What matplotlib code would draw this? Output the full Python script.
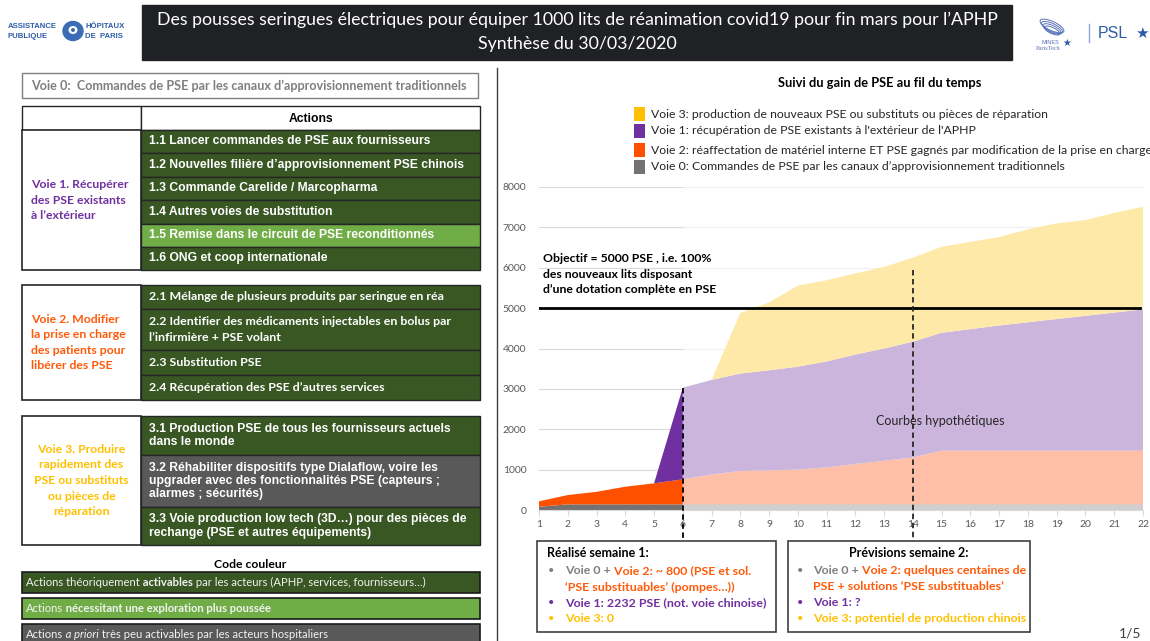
import matplotlib
matplotlib.use("Agg")
import matplotlib.pyplot as plt
from matplotlib.patches import Rectangle, Ellipse

# --- data ---
weeks = list(range(1, 23))
voie0 = [80] + [140] * 21
voie2 = [135, 230, 310, 437, 520, 620, 740, 825, 840, 860, 915, 1000, 1080, 1160] + [1330] * 8
voie1 = [0, 0, 0, 0, 0, 2270, 2340, 2415, 2480, 2550, 2625, 2710, 2780, 2870, 2920,
         3010, 3100, 3180, 3260, 3340, 3420, 3500]
voie3 = [0] * 7 + [1500, 1680, 2010, 2010, 2010, 2020, 2080, 2130, 2160, 2190, 2300,
                   2370, 2370, 2470, 2540]
objective = 5000
done_week = 6
forecast_week = 14
yticks = list(range(0, 9000, 1000))

legend_labels = [
    "Voie 3: production de nouveaux PSE ou substituts ou pièces de réparation",
    "Voie 1: récupération de PSE existants à l'extérieur de l'APHP",
    "Voie 2: réaffectation de matériel interne ET PSE gagnés par modification de la prise en charge",
    "Voie 0: Commandes de PSE par les canaux d’approvisionnement traditionnels",
]

voie1_actions = ["1.1 Lancer commandes de PSE aux fournisseurs",
                 "1.2 Nouvelles filière d’approvisionnement PSE chinois",
                 "1.3 Commande Carelide / Marcopharma",
                 "1.4 Autres voies de substitution",
                 "1.5 Remise dans le circuit de PSE reconditionnés",
                 "1.6 ONG et coop internationale"]
voie2_actions = ["2.1 Mélange de plusieurs produits par seringue en réa",
                 "2.2 Identifier des médicaments injectables en bolus par\nl’infirmière + PSE volant",
                 "2.3 Substitution PSE",
                 "2.4 Récupération des PSE d’autres services"]
voie3_actions = ["3.1 Production PSE de tous les fournisseurs actuels\ndans le monde",
                 "3.2 Réhabiliter dispositifs type Dialaflow, voire les\nupgrader avec des fonctionnalités PSE (capteurs ;\nalarmes ; sécurités)",
                 "3.3 Voie production low tech (3D…) pour des pièces de\nrechange (PSE et autres équipements)"]

# colours
GREEN = "#385723"
LGREEN = "#70AD47"
DGREY = "#595959"
PURPLE = "#7030A0"
ORANGE = "#FF5A0A"
YELLOW = "#FFC000"
GREYTXT = "#7F7F7F"
dark_cols = ["#767171", "#FF5000", "#7030A0", "#FFC000"]
light_cols = ["#D0CECE", "#FFBFA6", "#CBB5DD", "#FFE9A8"]
legend_cols = ["#FFC000", "#7030A0", "#FF5000", "#767171"]

CAL = ["Lato", "DejaVu Sans"]
ARIAL = ["Liberation Sans", "DejaVu Sans"]

W, H = 1150, 641
fig = plt.figure(figsize=(W / 100, H / 100), dpi=100)
fig.patch.set_facecolor("white")

# slide overlay in pixel coordinates
ax0 = fig.add_axes([0, 0, 1, 1])
ax0.set_xlim(0, W)
ax0.set_ylim(H, 0)
ax0.axis("off")


def rect(x0, y0, x1, y1, fc="white", ec="#262626", lw=1.0, z=1):
    ax0.add_patch(Rectangle((x0, y0), x1 - x0, y1 - y0, facecolor=fc, edgecolor=ec, lw=lw, zorder=z))


def rich(x, y, parts, size=8.6, family=CAL):
    # pieces of differently styled text, laid one after the other
    s, kw = parts[0]
    t = ax0.text(x, y, s, va="center", ha="left", fontsize=size, family=family, zorder=5, **kw)
    for s, kw in parts[1:]:
        t = ax0.annotate(s, xy=(1, 0.5), xycoords=t, va="center", ha="left",
                         fontsize=size, family=family, zorder=5, **kw)
    return t


# title bar
rect(142, 5, 1012, 60, fc="#202124", ec="#202124")
ax0.text(577, 20, "Des pousses seringues électriques pour équiper 1000 lits de réanimation covid19 pour fin mars pour l’APHP",
         color="white", ha="center", va="center", fontsize=12.8, family=CAL)
ax0.text(577, 44, "Synthèse du 30/03/2020", color="white", ha="center", va="center", fontsize=12.8, family=CAL)

# logos (approximation)
blue = "#2D5CA6"
ax0.text(8, 27, "ASSISTANCE", color=blue, fontsize=5.6, fontweight="bold", family=ARIAL, va="center")
ax0.text(8, 36, "PUBLIQUE", color=blue, fontsize=5.6, fontweight="bold", family=ARIAL, va="center")
ax0.add_patch(Ellipse((73, 31), 20, 19, color="#3A6DB5"))
ax0.add_patch(Ellipse((73, 30), 9, 8, facecolor="white", edgecolor="none"))
ax0.add_patch(Ellipse((73, 30), 4, 4, facecolor="#3A6DB5", edgecolor="none"))
ax0.text(85, 27, "HÔPITAUX", color=blue, fontsize=5.6, fontweight="bold", family=ARIAL, va="center")
ax0.text(85, 36, "DE  PARIS", color=blue, fontsize=5.6, fontweight="bold", family=ARIAL, va="center")
for k in range(4):
    ax0.add_patch(Ellipse((1052, 26 + k * 1.5), 26 - k * 3, 9 - k, angle=25, fill=False,
                          edgecolor="#5A73B8", lw=0.7))
ax0.text(1050, 42, "MINES", color="#5A73B8", fontsize=4, ha="center", va="center", family=ARIAL)
ax0.text(1048, 48, "ParisTech", color="#5A73B8", fontsize=4.5, ha="center", va="center", family="Liberation Serif")
ax0.text(1067, 43, "★", color=blue, fontsize=7, ha="center", va="center", family="DejaVu Sans")
ax0.plot([1089, 1089], [24, 42], color="#8FA7D4", lw=1)
ax0.text(1098, 33, "PSL", color=blue, fontsize=11.5, va="center", family=ARIAL)
ax0.text(1135, 33, "★", color=blue, fontsize=11, va="center", family="DejaVu Sans")

# vertical separator
ax0.plot([497, 497], [68, H], color="#404040", lw=1)

# voie 0 box
rect(22, 73, 478, 98, ec=GREYTXT, lw=1)
ax0.text(31, 86, "Voie 0:  Commandes de PSE par les canaux d’approvisionnement traditionnels",
         color=GREYTXT, fontsize=9.1, fontweight="bold", family=CAL, va="center")


def table(edges, actions, colours, font, size, spacing, label, lcol, ha_label, header=False):
    top = edges[0]
    if header:
        rect(22, top - 24, 141, top)
        rect(141, top - 24, 480, top)
        ax0.text(311, top - 11.5, "Actions", fontsize=8.7, fontweight="bold", family=ARIAL,
                 ha="center", va="center")
    rect(22, top, 141, edges[-1], lw=1.2)
    for i, txt in enumerate(actions):
        rect(141, edges[i], 480, edges[i + 1], fc=colours[i], lw=1.0)
        ax0.text(149, (edges[i] + edges[i + 1]) / 2, txt, color="white", fontsize=size,
                 fontweight="bold", family=font, va="center", ha="left", linespacing=spacing)
    lx = 31 if ha_label == "left" else 81.5
    ax0.text(lx, (top + edges[-1]) / 2, label, color=lcol, fontsize=8.8, fontweight="bold",
             family=CAL, va="center", ha=ha_label, linespacing=1.5)


table([130, 153, 177, 200, 224, 247, 270], voie1_actions,
      [GREEN, GREEN, GREEN, GREEN, LGREEN, GREEN], ARIAL, 8.7, 1.15,
      "Voie 1. Récupérer\ndes PSE existants\nà l’extérieur", PURPLE, "left", header=True)
table([285, 309, 350, 375, 400], voie2_actions, [GREEN] * 4, CAL, 8.9, 1.45,
      "Voie 2. Modifier\nla prise en charge\ndes patients pour\nlibérer des PSE", ORANGE, "left")
table([416, 455, 507, 545], voie3_actions, [GREEN, DGREY, GREEN], ARIAL, 8.7, 1.15,
      "Voie 3. Produire\nrapidement des\nPSE ou substituts\nou pièces de\nréparation", YELLOW, "center")

# colour code
ax0.text(250, 564, "Code couleur", fontsize=8.8, fontweight="bold", family=CAL, ha="center", va="center")
rect(22, 572, 480, 593, fc=GREEN, ec="#1a1a1a", lw=1.2)
rect(22, 598, 480, 619, fc=LGREEN, ec="#1a1a1a", lw=1.2)
rect(22, 624, 480, 645, fc=DGREY, ec="#1a1a1a", lw=1.2)
wt = {"color": "#F2F2F2"}
rich(26, 582.5, [("Actions théoriquement", wt), (" activables", dict(wt, fontweight="bold")),
                 (" par les acteurs (APHP, services, fournisseurs…)", wt)], size=8.1)
rich(26, 608.5, [("Actions", wt), (" nécessitant une exploration plus poussée", dict(wt, fontweight="bold"))], size=8.1)
rich(26, 634, [("Actions", wt), (" a priori", dict(wt, fontstyle="italic")),
               (" très peu activables par les acteurs hospitaliers", wt)], size=8.1)

# chart title and legend
ax0.text(880, 83, "Suivi du gain de PSE au fil du temps", fontsize=9.3, fontweight="bold",
         family=CAL, ha="center", va="center")
for i, (lab, col) in enumerate(zip(legend_labels, legend_cols)):
    y = [114, 131, 150, 167][i]
    rect(634, y - 7, 645, y + 7, fc=col, ec="none")
    ax0.text(651, y, lab, fontsize=8.8, family=CAL, va="center", ha="left", color="#262626")

# bottom boxes
rect(537, 541, 776, 632, ec="#404040", lw=1.2)
rect(788, 541, 1030, 632, ec="#404040", lw=1.2)
bold = {"fontweight": "bold"}
ax0.text(547, 553, "Réalisé semaine 1:", fontsize=9, family=CAL, va="center", **bold)
ax0.text(909, 553, "Prévisions semaine 2:", fontsize=9, family=CAL, va="center", ha="center", **bold)
box_lines = [
    (551, 565, [
        ("#7F7F7F", [("Voie 0 +", dict(bold, color="#7F7F7F")), (" Voie 2: ~ 800 (PSE et sol.", dict(bold, color=ORANGE))]),
        (None, [("‘PSE substituables’ (pompes…))", dict(bold, color=ORANGE))]),
        (PURPLE, [("Voie 1: 2232 PSE (not. voie chinoise)", dict(bold, color=PURPLE))]),
        (YELLOW, [("Voie 3: 0", dict(bold, color=YELLOW))]),
    ]),
    (800, 813, [
        ("#7F7F7F", [("Voie 0 +", dict(bold, color="#7F7F7F")), (" Voie 2: quelques centaines de", dict(bold, color=ORANGE))]),
        (None, [("PSE + solutions ‘PSE substituables’", dict(bold, color=ORANGE))]),
        (PURPLE, [("Voie 1: ?", dict(bold, color=PURPLE))]),
        (YELLOW, [("Voie 3: potentiel de production chinois", dict(bold, color=YELLOW))]),
    ]),
]
for bx, tx, lines in box_lines:
    for j, (bcol, parts) in enumerate(lines):
        y = 571 + 16 * j
        if bcol:
            ax0.text(bx, y, "•", color=bcol, fontsize=8, family=CAL, va="center", ha="center")
        rich(tx, y, parts, size=8.9)

ax0.text(1130, 633, "1/5", fontsize=10, family=CAL, ha="center", va="center", color="#404040")

# --- the area chart ---
left, right, top, bottom = 539, 1143, 187, 510
ax = fig.add_axes([left / W, 1 - bottom / H, (right - left) / W, (bottom - top) / H])
ax.patch.set_alpha(0)
ax.set_xlim(1, 22)
ax.set_ylim(0, 8000)

for y in yticks[1:]:
    ax.plot([1, done_week], [y, y], color="#D9D9D9", lw=0.8, zorder=0)
    ax.plot([done_week, 22], [y, y], color="#F0F0F0", lw=0.8, zorder=0)

n = done_week
ax.stackplot(weeks[:n], voie0[:n], voie2[:n], voie1[:n], voie3[:n], colors=dark_cols, lw=0, zorder=2)
ax.stackplot(weeks[n - 1:], voie0[n - 1:], voie2[n - 1:], voie1[n - 1:], voie3[n - 1:],
             colors=light_cols, lw=0, zorder=2)

ax.plot([1, 21.9], [objective, objective], color="black", lw=2, zorder=4)

top6 = voie0[n - 1] + voie2[n - 1] + voie1[n - 1] + voie3[n - 1]
ax.plot([done_week, done_week], [top6, -770], color="black", lw=1.3, ls=(0, (3, 2)),
        clip_on=False, zorder=5)
ax.plot([forecast_week, forecast_week], [5940, -770], color="#262626", lw=1.3, ls=(0, (3, 2)),
        clip_on=False, zorder=5)
ax.text(14.94, 2200, "Courbes hypothétiques", fontsize=9, family=CAL, ha="center", va="center",
        color="#262626", zorder=6)

# objective label, placed in slide pixels but drawn above the grid
ax.text(543, 274, "Objectif = 5000 PSE , i.e. 100%\ndes nouveaux lits disposant\nd’une dotation complète en PSE",
        transform=ax0.transData, fontsize=8.8, fontweight="bold", family=CAL, va="center",
        ha="left", linespacing=1.55, zorder=6, clip_on=False)

ax.set_xticks(weeks)
ax.set_yticks(yticks)
for s in ["top", "right", "left"]:
    ax.spines[s].set_visible(False)
ax.spines["bottom"].set_color("#D9D9D9")
ax.spines["bottom"].set_zorder(3)
ax.tick_params(axis="x", colors="#D9D9D9", length=4, width=0.8, labelcolor="#595959", labelsize=7.5, pad=3)
ax.tick_params(axis="y", length=0, labelcolor="#595959", labelsize=7.5, pad=9)
for lab in ax.get_xticklabels() + ax.get_yticklabels():
    lab.set_family(CAL)

fig.savefig("out.png", dpi=100, facecolor="white")
